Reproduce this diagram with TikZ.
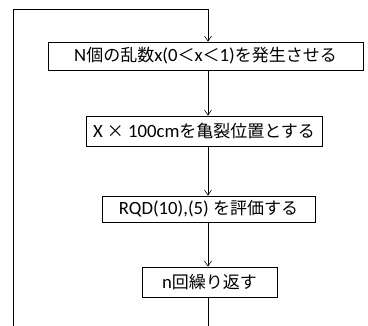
\documentclass[tikz,border=0pt]{standalone}
\usepackage{fontspec}
\setmainfont{Noto Sans CJK JP}
\newfontfamily\lat[Scale=1.1]{Carlito}
\usetikzlibrary{arrows.meta}
\begin{document}
\begin{tikzpicture}[x=1pt,y=-1pt,
  box/.style={draw,line width=0.8pt,inner sep=0pt,font=\fontsize{17}{19}\selectfont},
  link/.style={line width=0.7pt},
  arr/.style={link,-{Straight Barb[length=5pt,width=7pt,line width=0.6pt]}}]
\useasboundingbox (0,0) rectangle (368,326);
\node[box,minimum width=315pt,minimum height=28pt] (b1) at (205.5,56) {{\lat N}個の乱数{\lat x(0}＜{\lat x}＜{\lat 1)}を発生させる};
\node[box,minimum width=236pt,minimum height=30pt] (b2) at (204,131) {{\lat X }×{\lat\ 100cm}を亀裂位置とする};
\node[box,minimum width=213pt,minimum height=26pt] (b3) at (208.5,209) {{\lat RQD(10),(5) }を評価する};
\node[box,minimum width=135pt,minimum height=30pt] (b4) at (209.5,282) {{\lat n}回繰り返す};
\coordinate (tl) at (13,9);
\coordinate (tr) at (208,9);
\coordinate (bl) at (13,326);
\coordinate (br) at (208,326);
\draw[link] (bl) -- (tl) -- (tr);
\draw[arr] (tr) -- (b1.north -| tr);
\draw[arr] (b1.south -| tr) -- (b2.north -| tr);
\draw[arr] (b2.south -| tr) -- (b3.north -| tr);
\draw[arr] (b3.south -| tr) -- (b4.north -| tr);
\draw[link] (b4.south -| tr) -- (br);
\end{tikzpicture}
\end{document}
